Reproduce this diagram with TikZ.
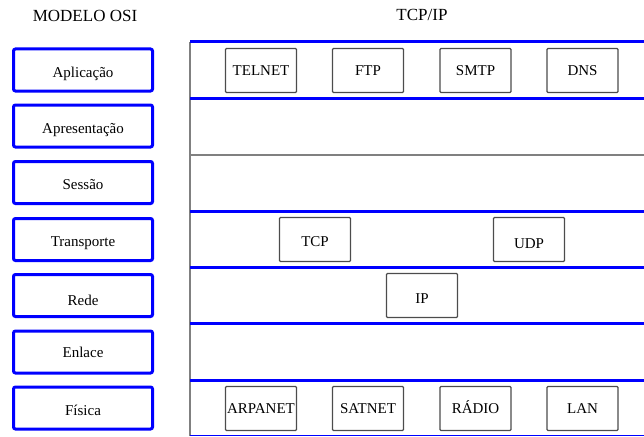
\documentclass[tikz,border=0pt]{standalone}
\usepackage{fontspec}
\setmainfont{Liberation Serif}
\newfontfamily\diagfont{Liberation Serif}
\begin{document}
\begin{tikzpicture}[x=1pt,y=-1pt,
  title/.style={font=\diagfont\fontsize{17}{20}\selectfont, inner sep=0pt},
  osilayer/.style={draw=blue, line width=3pt, rounded corners=2pt,
    minimum width=139pt, minimum height=42pt, inner sep=0pt,
    text height=14pt, text depth=0pt,
    font=\diagfont\fontsize{15}{18}\selectfont},
  proto/.style={draw=black!70, line width=1.2pt, rounded corners=1pt,
    minimum width=71pt, minimum height=44pt, inner sep=0pt,
    text height=10pt, text depth=0pt,
    font=\diagfont\fontsize{15}{18}\selectfont},
  sepblue/.style={draw=blue, line width=3pt},
  sepgray/.style={draw=black!50, line width=1.5pt}]
\useasboundingbox (0,0) rectangle (644,436);

% column titles
\node[title] (tosi) at (85,16) {MODELO OSI};
\node[title] (ttcp) at (422,15) {TCP/IP};

% OSI reference model layers
\node[osilayer] (apl) at (83,70)    {Aplicação};
\node[osilayer] (apr) at (83,126)   {Apresentação};
\node[osilayer] (ses) at (83,182.5) {Sessão};
\node[osilayer] (tra) at (83,239.5) {Transporte};
\node[osilayer, text height=19pt] (red) at (83,295.5) {Rede};
\node[osilayer, text height=10pt] (enl) at (83,352)   {Enlace};
\node[osilayer] (fis) at (83,408)   {Física};

% TCP/IP stack: layer separators
\draw[sepgray] (190,42) -- (190,436);
\draw[sepblue] (190,42)    -- (644,42);
\draw[sepblue] (190,98.5)  -- (644,98.5);
\draw[sepgray] (190,155)   -- (644,155);
\draw[sepblue] (190,211)   -- (644,211);
\draw[sepblue] (190,267.5) -- (644,267.5);
\draw[sepblue] (190,323.5) -- (644,323.5);
\draw[sepblue] (190,380)   -- (644,380);
\draw[draw=blue, line width=1.2pt] (190,435.2) -- (644,435.2);

% application protocols
\node[proto] (telnet) at (261,70.5)   {TELNET};
\node[proto] (ftp)    at (368,70.5)   {FTP};
\node[proto] (smtp)   at (475.5,70.5) {SMTP};
\node[proto] (dns)    at (582.5,70.5) {DNS};

% transport and network protocols
\node[proto, text height=14pt] (tcp) at (315,239.5) {TCP};
\node[proto, text height=17pt] (udp) at (529,239.5) {UDP};
\node[proto, text height=15pt] (ip)  at (422,295.5) {IP};

% physical networks
\node[proto] (arpanet) at (261,408.5)   {ARPANET};
\node[proto] (satnet)  at (368,408.5)   {SATNET};
\node[proto] (radio)   at (475.5,408.5) {RÁDIO};
\node[proto] (lan)     at (582.5,408.5) {LAN};
\end{tikzpicture}
\end{document}
